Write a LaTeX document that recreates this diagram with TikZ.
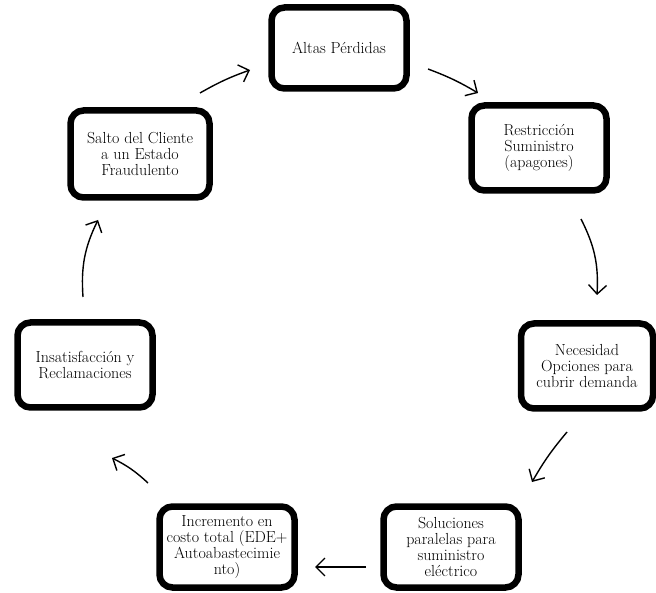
\documentclass[tikz,border=0pt]{standalone}
\usepackage{fontspec}
\usepackage{tikz}
\usetikzlibrary{arrows.meta,positioning,calc,shadows}
\tikzstyle{Box} = [draw, line width=6.5pt, rounded corners=13pt, fill=white, minimum width=135pt, minimum height=81pt, align=center, font=\fontsize{16}{16}\selectfont, drop shadow={opacity=0.25, shadow xshift=2pt, shadow yshift=-2pt}]
\tikzstyle{Arrow} = [-{Straight Barb[length=9pt,width=18pt]}, line width=1.4pt]

\begin{document}
\begin{tikzpicture}[x=1pt,y=1pt]
        \useasboundingbox (0,0) rectangle (656,-593);

        %%%%% Top %%%%%

        \draw node[Box] at (339,-48) (A) {Altas Pérdidas};
        \draw node[Box, minimum height=85pt] at ($(A)+(200,-100)$) (B) {Restricción\\Suministro\\(apagones)};

        %%%%% Right %%%%%

        \draw node[Box, minimum width=132pt, minimum height=85pt] at ($(B)+(48,-218)$) (C) {Necesidad\\Opciones para\\cubrir demanda};

        %%%%% Bottom %%%%%

        \draw node[Box, inner ysep=1pt, inner xsep=2pt] at ($(C)+(-136,-181)$) (D) {Soluciones\\paralelas para\\suministro\\eléctrico};
        \draw node[Box, inner ysep=1pt, inner xsep=2pt] at ($(D)+(-224,0)$) (E) {Incremento en\\costo total (EDE+\\Autoabastecimie\\nto)};

        %%%%% Left %%%%%

        \draw node[Box, minimum height=85pt] at ($(E)+(-142,182)$) (F) {Insatisfacción y\\Reclamaciones};
        \draw node[Box, minimum width=139pt, minimum height=87pt] at ($(F)+(55,211)$) (G) {Salto del Cliente\\a un Estado\\Fraudulento};

        %%%%% Arrow ends %%%%%

        \coordinate (ab1) at (428,-69);  \coordinate (ab2) at (478,-93);
        \coordinate (bc1) at (581,-219); \coordinate (bc2) at (597,-295);
        \coordinate (cd1) at (567,-432); \coordinate (cd2) at (532,-482);
        \coordinate (de1) at (366,-567); \coordinate (de2) at (315,-567);
        \coordinate (ef1) at (148,-483); \coordinate (ef2) at (112,-458);
        \coordinate (fg1) at (83,-297);  \coordinate (fg2) at (98,-220);
        \coordinate (ga1) at (200,-93);  \coordinate (ga2) at (250,-70);

        %%%%% Connecting Arrows %%%%%

        \draw [Arrow] (ab1) to[bend left=5] (ab2);
        \draw [Arrow] (bc1) to[bend left=15] (bc2);
        \draw [Arrow] (cd1) to[bend right=5] (cd2);
        \draw [Arrow] (de1) -- (de2);
        \draw [Arrow] (ef1) to[bend right=8] (ef2);
        \draw [Arrow] (fg1) to[bend left=15] (fg2);
        \draw [Arrow] (ga1) to[bend left=5] (ga2);

\end{tikzpicture}
\end{document}
